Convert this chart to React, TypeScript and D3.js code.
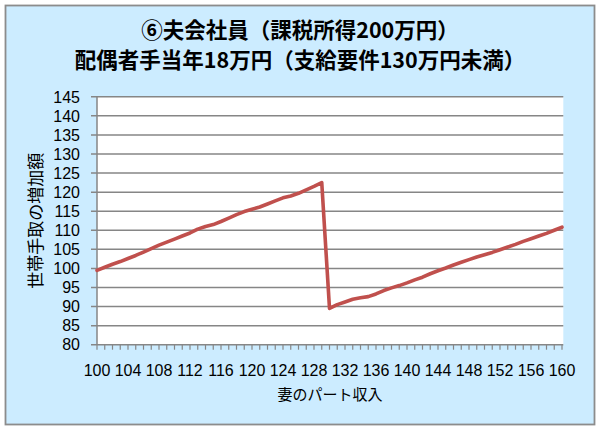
import React from "react";
import * as d3 from "d3";

const titleLines = ["⑥夫会社員（課税所得200万円）", "配偶者手当年18万円（支給要件130万円未満）"];
const yTitle = "世帯手取の増加額";
const xTitle = "妻のパート収入";

const income = d3.range(100, 161);
const netIncrease = [
  99.5, 100.3, 101.1, 101.8, 102.6, 103.4, 104.3, 105.2, 106.1, 106.9,
  107.7, 108.5, 109.3, 110.3, 111.0, 111.5, 112.3, 113.2, 114.1, 114.9,
  115.5, 116.1, 116.9, 117.7, 118.5, 119.0, 119.7, 120.6, 121.5, 122.5,
  89.5, 90.5, 91.2, 91.9, 92.3, 92.6, 93.3, 94.2, 94.9, 95.5,
  96.2, 97.0, 97.7, 98.6, 99.4, 100.1, 100.9, 101.6, 102.3, 103.0,
  103.6, 104.2, 104.9, 105.6, 106.3, 107.1, 107.8, 108.5, 109.2, 110.0,
  110.8,
];
const yTicks = d3.range(80, 146, 5);
const xLabelEvery = 4;

export default function App() {
  const W = 600, H = 429;
  const left = 97, right = 562, top = 96.8, bottom = 344.7;
  const x = d3.scalePoint<number>().domain(income).range([left, right]);
  const y = d3.scaleLinear().domain([80, 145]).range([bottom, top]);
  const line = d3
    .line<number>()
    .x((_, i) => x(income[i]) as number)
    .y((d) => y(d));
  const font = "'Noto Sans CJK JP', sans-serif";
  const numFont = "'Liberation Sans', Arial, sans-serif";
  const grid = "#868686";
  return (
    <svg width={W} height={H} style={{ position: "absolute", left: 0, top: 0 }} fontFamily={font}>
      <rect x={0} y={0} width={W} height={H} fill="#ffffff" />
      <rect x={5.5} y={5.5} width={589} height={419} fill="#CCECFF" stroke="#8c8c8c" strokeWidth={1.8} />
      {titleLines.map((t, i) => (
        <text key={i} x={300} y={38 + i * 30} textAnchor="middle" fontSize={21.5} fontWeight="bold" fill="#000">
          {t}
        </text>
      ))}
      <rect x={left} y={top} width={563.3 - left} height={bottom - top} fill="#ffffff" />
      {yTicks.map((t) => (
        <g key={t}>
          <line x1={left - 6} x2={563.3} y1={y(t)} y2={y(t)} stroke={grid} strokeWidth={1.5} />
          <text x={80} y={y(t)} dy="0.36em" textAnchor="end" fontSize={16} fontFamily={numFont} fill="#000">
            {t}
          </text>
        </g>
      ))}
      <line x1={left} x2={left} y1={top} y2={bottom} stroke={grid} strokeWidth={1.5} />
      {income.map((c) => (
        <line key={c} x1={x(c)} x2={x(c)} y1={bottom} y2={bottom + 5} stroke={grid} strokeWidth={1.2} />
      ))}
      {income
        .filter((c) => (c - income[0]) % xLabelEvery === 0)
        .map((c) => (
          <text key={c} x={x(c)} y={376} textAnchor="middle" fontSize={16} fontFamily={numFont} fill="#000">
            {c}
          </text>
        ))}
      <path d={line(netIncrease) ?? ""} fill="none" stroke="#C0504D" strokeWidth={3.6} strokeLinejoin="round" strokeLinecap="round" />
      <text x={330} y={400} textAnchor="middle" fontSize={15} fill="#000">
        {xTitle}
      </text>
      <text transform={`translate(42,${(top + bottom) / 2}) rotate(-90)`} textAnchor="middle" fontSize={17} fill="#000">
        {yTitle}
      </text>
    </svg>
  );
}
